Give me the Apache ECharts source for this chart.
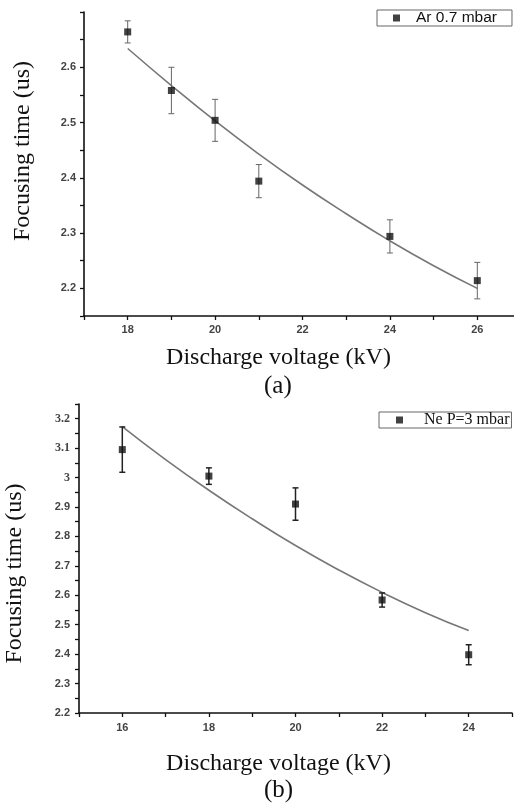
<!DOCTYPE html>
<html><head><meta charset="utf-8">
<script src="https://cdn.jsdelivr.net/npm/echarts@6/dist/echarts.min.js"></script>
<style>html,body{margin:0;padding:0;background:#fff}#c{width:514px;height:811px}</style>
</head><body><div id="c"></div>
<script>
// ---- Panel (a): Ar 0.7 mbar ----
const arVoltage = [18, 19, 20, 21, 24, 26];
const arTime    = [2.664, 2.558, 2.504, 2.394, 2.294, 2.214];
const arErr     = [0.020, 0.042, 0.038, 0.030, 0.030, 0.033];
const arFitX    = [18, 19, 20, 21, 22, 23, 24, 25, 26];
const arFitY    = [2.634, 2.567, 2.503, 2.443, 2.387, 2.335, 2.286, 2.241, 2.200];
// ---- Panel (b): Ne P=3 mbar ----
const neVoltage = [16, 18, 20, 22, 24];
const neTime    = [3.095, 3.005, 2.910, 2.584, 2.398];
const neErr     = [0.077, 0.028, 0.055, 0.024, 0.034];
const neFitX    = [16, 17, 18, 19, 20, 21, 22, 23, 24];
const neFitY    = [3.173, 3.061, 2.957, 2.860, 2.769, 2.686, 2.610, 2.541, 2.480];
// tick labels
const xTicksA = [18, 20, 22, 24, 26];
const xTicksB = [16, 18, 20, 22, 24];
const yTicksA = ['2.2', '2.3', '2.4', '2.5', '2.6'];
const yTicksB = ['2.2', '2.3', '2.4', '2.5', '2.6', '2.7', '2.8', '2.9', '3', '3.1', '3.2'];

const chart = echarts.init(document.getElementById('c'));
const serif = '"Liberation Serif","DejaVu Serif",serif';
const sans = '"Liberation Sans",Arial,sans-serif';

function fmtY(list) {
  return function (v) {
    if (Math.abs(v * 10 - Math.round(v * 10)) > 1e-6) return '';
    const s = (Math.round(v * 10) / 10).toString();
    return list.indexOf(s) >= 0 ? s : '';
  };
}
function fmtX(list) {
  return function (v) { return list.indexOf(Math.round(v)) >= 0 ? String(Math.round(v)) : ''; };
}
function errData(xs, ys, es) { return xs.map((x, i) => [x, ys[i] - es[i], ys[i] + es[i]]); }
function errRender(color, w, cap) {
  return function (params, api) {
    const x = api.value(0);
    const p1 = api.coord([x, api.value(2)]);
    const p2 = api.coord([x, api.value(1)]);
    const st = { stroke: color, lineWidth: w };
    return { type: 'group', children: [
      { type: 'line', shape: { x1: p1[0], y1: p1[1], x2: p2[0], y2: p2[1] }, style: st },
      { type: 'line', shape: { x1: p1[0] - cap, y1: p1[1], x2: p1[0] + cap, y2: p1[1] }, style: st },
      { type: 'line', shape: { x1: p2[0] - cap, y1: p2[1], x2: p2[0] + cap, y2: p2[1] }, style: st }
    ]};
  };
}
const axisLine = { lineStyle: { color: '#111', width: 1.6 } };
const axisTick = { show: true, length: 4, lineStyle: { color: '#111', width: 1.3 } };
const axisTitleStyle = { fontFamily: serif, fontSize: 24, color: '#111' };
const tickFont = { fontFamily: sans, fontSize: 11, fontWeight: 'bold', color: '#444' };

chart.setOption({
  animation: false,
  backgroundColor: '#fff',
  grid: [
    { left: 84, top: 12, right: -7, height: 304, outerBoundsMode: 'none', containLabel: false },
    { left: 79, top: 404, right: 2, height: 309, outerBoundsMode: 'none', containLabel: false }
  ],
  legend: [
    { data: ['Ar 0.7 mbar'], left: 377, top: 10, itemWidth: 7, itemHeight: 7, itemGap: 0,
      borderColor: '#666', borderWidth: 1, borderRadius: 0, padding: [0, 15, 0, 16],
      textStyle: { fontFamily: sans, fontSize: 15.5, color: '#111', padding: [0, 0, 0, 11], lineHeight: 16 } },
    { data: ['Ne P=3 mbar'], left: 379, top: 412, itemWidth: 7, itemHeight: 7, itemGap: 0,
      borderColor: '#666', borderWidth: 1, borderRadius: 0, padding: [0, 2, 0, 17],
      textStyle: { fontFamily: serif, fontSize: 16, color: '#111', padding: [0, 0, 0, 16], lineHeight: 15 } }
  ],
  xAxis: [
    { type: 'value', gridIndex: 0, min: 17, max: 27, interval: 1, splitLine: { show: false },
      axisLine, axisTick, axisLabel: Object.assign({ formatter: fmtX(xTicksA), margin: 8 }, tickFont),
      name: 'Discharge voltage (kV)', nameLocation: 'middle', nameGap: 30,
      nameTextStyle: Object.assign({}, axisTitleStyle, { padding: [0, 0, 0, -48] }) },
    { type: 'value', gridIndex: 1, min: 15, max: 25, interval: 1, splitLine: { show: false },
      axisLine, axisTick, axisLabel: Object.assign({ formatter: fmtX(xTicksB), margin: 9 }, tickFont),
      name: 'Discharge voltage (kV)', nameLocation: 'middle', nameGap: 39,
      nameTextStyle: Object.assign({}, axisTitleStyle, { padding: [0, 0, 0, -34] }) }
  ],
  yAxis: [
    { type: 'value', gridIndex: 0, min: 2.15, max: 2.7, interval: 0.05, splitLine: { show: false },
      axisLine, axisTick, axisLabel: Object.assign({ formatter: fmtY(yTicksA), margin: 8 }, tickFont),
      name: 'Focusing time (us)', nameLocation: 'middle', nameGap: 49,
      nameTextStyle: Object.assign({}, axisTitleStyle, { padding: [0, 0, 0, 26] }) },
    { type: 'value', gridIndex: 1, min: 2.2, max: 3.25, interval: 0.05, splitLine: { show: false },
      axisLine, axisTick,
      axisLabel: Object.assign({ formatter: function (v) {
          const s = fmtY(yTicksB)(v);
          if (s === '3' || s === '3.1' || s === '3.2') return '{s|' + s + '}';
          return s;
        }, margin: 9,
        rich: { s: { fontFamily: serif, fontSize: 12, color: '#444' } } }, tickFont),
      name: 'Focusing time (us)', nameLocation: 'middle', nameGap: 52,
      nameTextStyle: Object.assign({}, axisTitleStyle, { padding: [0, 0, 0, -30] }) }
  ],
  graphic: [
    { type: 'text', left: 264, top: 374, style: { text: '(a)', font: '25px ' + serif, fill: '#111' } },
    { type: 'text', left: 264, top: 778, style: { text: '(b)', font: '25px ' + serif, fill: '#111' } }
  ],
  series: [
    { type: 'line', xAxisIndex: 0, yAxisIndex: 0, data: arFitX.map((x, i) => [x, arFitY[i]]), smooth: true,
      showSymbol: false, lineStyle: { color: '#777', width: 1.6 }, z: 2 },
    { type: 'custom', xAxisIndex: 0, yAxisIndex: 0, data: errData(arVoltage, arTime, arErr),
      renderItem: errRender('#666', 1, 3), z: 3 },
    { name: 'Ar 0.7 mbar', type: 'scatter', xAxisIndex: 0, yAxisIndex: 0, data: arVoltage.map((x, i) => [x, arTime[i]]),
      symbol: 'rect', symbolSize: 7, itemStyle: { color: '#111' }, z: 4 },
    { type: 'line', xAxisIndex: 1, yAxisIndex: 1, data: neFitX.map((x, i) => [x, neFitY[i]]), smooth: true,
      showSymbol: false, lineStyle: { color: '#777', width: 1.6 }, z: 2 },
    { type: 'custom', xAxisIndex: 1, yAxisIndex: 1, data: errData(neVoltage, neTime, neErr),
      renderItem: errRender('#222', 1.5, 3), z: 3 },
    { name: 'Ne P=3 mbar', type: 'scatter', xAxisIndex: 1, yAxisIndex: 1, data: neVoltage.map((x, i) => [x, neTime[i]]),
      symbol: 'rect', symbolSize: 7, itemStyle: { color: '#111' }, z: 4 }
  ]
});
</script></body></html>
